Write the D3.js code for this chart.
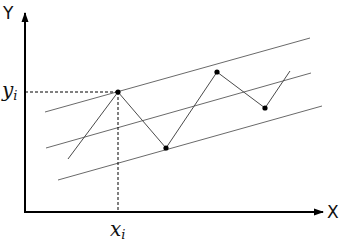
<!DOCTYPE html>
<html>
<head>
<meta charset="utf-8">
<script src="https://cdn.jsdelivr.net/npm/d3@7"></script>
<style>
  body { margin: 0; background: #fff; }
  .axlab { font-family: "DejaVu Sans", sans-serif; font-size: 17px; fill: #111; }
  .mathlab { font-family: "DejaVu Serif", serif; font-style: italic; font-size: 20px; fill: #111; }
  .mathlab tspan.sub { font-size: 13px; }
</style>
</head>
<body>
<svg id="chart"></svg>
<script>
// band lines (start / end in data units)
var bandNames = ["upper", "middle", "lower"];
var bandStart = [[0.667, 5.0], [0.7, 3.2], [1.1, 1.6]];
var bandEnd = [[9.5, 8.7], [9.533, 6.95], [9.9, 5.3]];

// zigzag series
var zigX = [1.433, 3.1, 4.7, 6.4, 8.0, 8.833];
var zigY = [2.65, 6.0, 3.2, 7.0, 5.2, 7.05];
var dotIdx = [1, 2, 3, 4];   // points that get a marker
var markIdx = 1;             // the (x_i, y_i) point

const width = 341, height = 244;
var svg = d3.select("#chart").attr("width", width).attr("height", height);

var x = d3.scaleLinear().domain([0, 10]).range([25, 325]);
var y = d3.scaleLinear().domain([0, 10]).range([212, 12]);

// arrow marker
svg.append("defs").append("marker")
  .attr("id", "arr")
  .attr("viewBox", "0 0 10 10")
  .attr("refX", 9).attr("refY", 5)
  .attr("markerWidth", 5).attr("markerHeight", 5)
  .attr("markerUnits", "strokeWidth")
  .attr("orient", "auto")
  .append("path").attr("d", "M0,1.5 L10,5 L0,8.5 Z").attr("fill", "#000");

// bands
svg.append("g").selectAll("line")
  .data(bandNames)
  .enter().append("line")
    .attr("x1", function(d, i) { return x(bandStart[i][0]); })
    .attr("y1", function(d, i) { return y(bandStart[i][1]); })
    .attr("x2", function(d, i) { return x(bandEnd[i][0]); })
    .attr("y2", function(d, i) { return y(bandEnd[i][1]); })
    .attr("stroke", "#6a6a6a")
    .attr("stroke-width", 1);

// dashed guides
var px = x(zigX[markIdx]), py = y(zigY[markIdx]);
svg.append("line")
  .attr("x1", x(0)).attr("y1", py).attr("x2", px).attr("y2", py)
  .attr("stroke", "#000").attr("stroke-width", 1).attr("stroke-dasharray", "3,2");
svg.append("line")
  .attr("x1", px).attr("y1", py).attr("x2", px).attr("y2", y(0))
  .attr("stroke", "#000").attr("stroke-width", 1).attr("stroke-dasharray", "3,2");

// zigzag
var line = d3.line()
  .x(function(d) { return x(zigX[d]); })
  .y(function(d) { return y(zigY[d]); });
svg.append("path")
  .datum(d3.range(zigX.length))
  .attr("d", line)
  .attr("fill", "none")
  .attr("stroke", "#4a4a4a")
  .attr("stroke-width", 1);

svg.append("g").selectAll("circle")
  .data(dotIdx)
  .enter().append("circle")
    .attr("cx", function(d) { return x(zigX[d]); })
    .attr("cy", function(d) { return y(zigY[d]); })
    .attr("r", 2.6)
    .attr("fill", "#000");

// axes
svg.append("line")
  .attr("x1", x(0)).attr("y1", y(0)).attr("x2", x(0)).attr("y2", 13)
  .attr("stroke", "#000").attr("stroke-width", 2).attr("marker-end", "url(#arr)");
svg.append("line")
  .attr("x1", x(0) - 1).attr("y1", y(0)).attr("x2", 323).attr("y2", y(0))
  .attr("stroke", "#000").attr("stroke-width", 2).attr("marker-end", "url(#arr)");

svg.append("text").attr("class", "axlab").attr("x", 3).attr("y", 19).text("Y");
svg.append("text").attr("class", "axlab").attr("x", 327).attr("y", 218).text("X");

var yl = svg.append("text").attr("class", "mathlab").attr("x", 2).attr("y", 97);
yl.append("tspan").text("y");
yl.append("tspan").attr("class", "sub").attr("dy", 3).text("i");

var xl = svg.append("text").attr("class", "mathlab").attr("x", 110).attr("y", 236);
xl.append("tspan").text("x");
xl.append("tspan").attr("class", "sub").attr("dy", 3).text("i");
</script>
</body>
</html>
